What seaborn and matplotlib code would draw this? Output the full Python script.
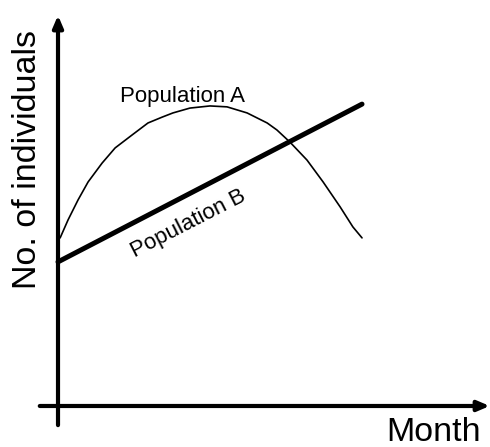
import numpy as np
import pandas as pd
import seaborn as sns
import matplotlib.pyplot as plt

# values (month, no. of individuals; arbitrary units)
months_a = [0.07, 0.33, 0.66, 0.99, 1.45, 1.88, 2.43, 2.96, 3.42, 3.78, 4.34,
            5.0, 5.56, 6.22, 6.88, 7.2, 7.63, 8.19, 8.72, 9.28, 9.7, 10.0]
pop_a = [5.53, 6.12, 6.78, 7.37, 7.99, 8.49, 8.91, 9.31, 9.5, 9.64, 9.8,
         9.87, 9.84, 9.64, 9.31, 9.08, 8.68, 8.09, 7.37, 6.55, 5.89, 5.53]
months_b = [0, 10]
pop_b = [4.74, 9.93]

label_a = "Population A"
label_b = "Population B"
x_title = "Month"
y_title = "No. of individuals"

df_a = pd.DataFrame({"month": months_a, "n": pop_a})
df_b = pd.DataFrame({"month": months_b, "n": pop_b})

sns.set_style("white")
plt.rcParams["font.family"] = ["Liberation Sans", "DejaVu Sans"]
plt.rcParams["text.color"] = "black"

fig = plt.figure(figsize=(4.9, 4.47), dpi=100)
ax = fig.add_axes([0, 0, 1, 1])

sns.lineplot(data=df_a, x="month", y="n", color="black", linewidth=1.2, ax=ax)
sns.lineplot(data=df_b, x="month", y="n", color="black", linewidth=3.6, ax=ax,
             solid_capstyle="round")

# axis frame: arrows drawn in data space
ax.set_xlim(-1.908, 14.21)
ax.set_ylim(-1.349, 13.355)
arrow = dict(arrowstyle="-|>,head_length=0.7,head_width=0.3", lw=3, color="black",
             shrinkA=0, shrinkB=0)
ax.annotate("", xy=(0, 12.85), xytext=(0, -0.63), arrowprops=arrow)
ax.annotate("", xy=(14.2, 0), xytext=(-0.6, 0), arrowprops=arrow)

ax.text(-1.0, 8.12, y_title, rotation=90, fontsize=24.5, ha="center", va="center")
ax.text(13.9, -0.35, x_title, fontsize=24.5, ha="right", va="top")
ax.text(4.08, 10.0, label_a, fontsize=16, ha="center", va="baseline")
ax.text(4.3, 6.0, label_b, fontsize=16, ha="center", va="center", rotation=27.2,
        rotation_mode="anchor")

ax.set_xlabel("")
ax.set_ylabel("")
ax.set_xticks([])
ax.set_yticks([])
for s in ax.spines.values():
    s.set_visible(False)

fig.savefig("out.png", dpi=100)
